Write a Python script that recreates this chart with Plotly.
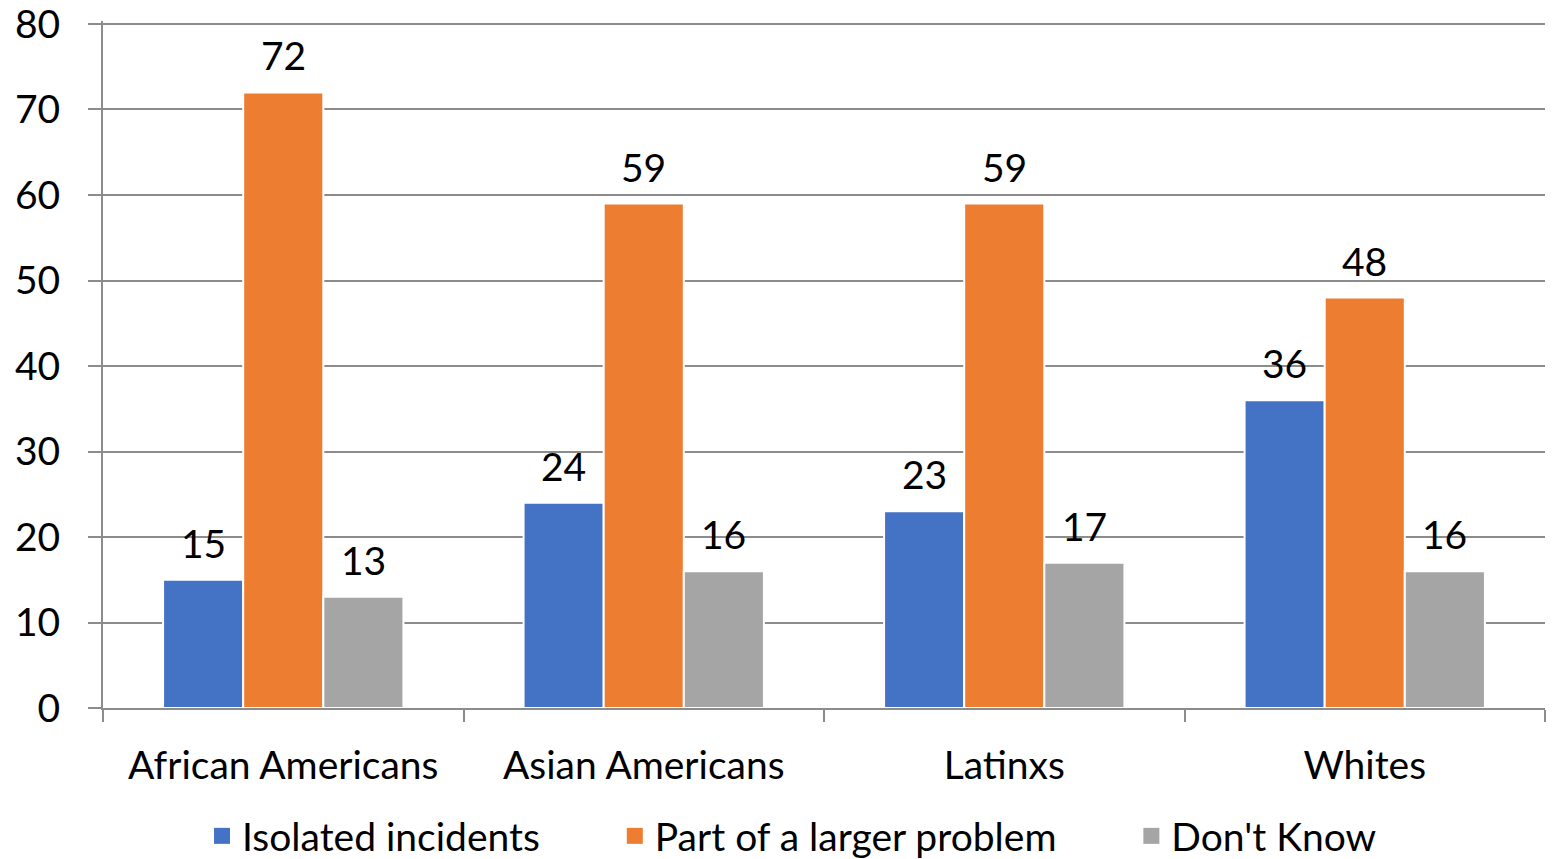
import plotly.graph_objects as go

categories = ["African Americans", "Asian Americans", "Latinxs", "Whites"]
series_names = ["Isolated incidents", "Part of a larger problem", "Don't Know"]
isolated = [15, 24, 23, 36]
larger = [72, 59, 59, 48]
dont_know = [13, 16, 17, 16]
colors = ["#4472C4", "#ED7D31", "#A5A5A5"]

FONT = "Lato"
FS = 39
GRID = "#8c8c8c"
bargap = 1/3
PAD = "\u00a0" * 7
W, H = 1553, 859

fig = go.Figure()
all_series = [isolated, larger, dont_know]
for k, (name, vals, col) in enumerate(zip(series_names, all_series, colors)):
    fig.add_trace(go.Bar(
        x=categories, y=vals, name=name, showlegend=False,
        marker=dict(color=col, line=dict(color="white", width=2)),
    ))
    fig.add_trace(go.Scatter(
        x=[None], y=[None], name=name + (PAD if k < 2 else ""), mode="markers",
        marker=dict(symbol="square", size=20, color=col),
    ))

# value labels above bars, positioned on the category axis
w = (1 - bargap) / len(all_series)
for j, vals in enumerate(all_series):
    for i, v in enumerate(vals):
        fig.add_annotation(
            x=i + (j - 1) * w, y=v, xref="x", yref="y",
            text=str(v), showarrow=False, yanchor="bottom", yshift=12,
            font=dict(family=FONT, size=FS, color="black"),
        )

fig.update_layout(
    width=W, height=H, autosize=False,
    barmode="group", bargap=bargap, bargroupgap=0,
    plot_bgcolor="white", paper_bgcolor="white",
    margin=dict(l=103, r=8, t=21, b=151, autoexpand=False),
    font=dict(family=FONT, size=FS, color="black"),
    legend=dict(orientation="h", x=0.51, xanchor="center", xref="container",
                y=1 - 836 / H, yanchor="middle", yref="container",
                font=dict(family=FONT, size=FS, color="black")),
    showlegend=True,
)
fig.update_yaxes(range=[0, 80.35], tickvals=[0, 10, 20, 30, 40, 50, 60, 70, 80],
                 showgrid=True, gridcolor=GRID, gridwidth=2,
                 zeroline=False, showline=True, linecolor=GRID, linewidth=2,
                 ticks="outside", ticklen=13, tickcolor=GRID, tickwidth=2,
                 ticklabelstandoff=20, ticklabeloverflow="allow")
fig.update_xaxes(showline=True, linecolor=GRID, linewidth=2, tickson="boundaries",
                 ticks="outside", ticklen=12, tickcolor=GRID, tickwidth=2,
                 ticklabelstandoff=22, showgrid=False, range=[-0.5, 3.5])

fig.write_html("out.html", config={"displayModeBar": False},
               post_script="document.body.style.margin='0';document.body.style.overflow='hidden';")
